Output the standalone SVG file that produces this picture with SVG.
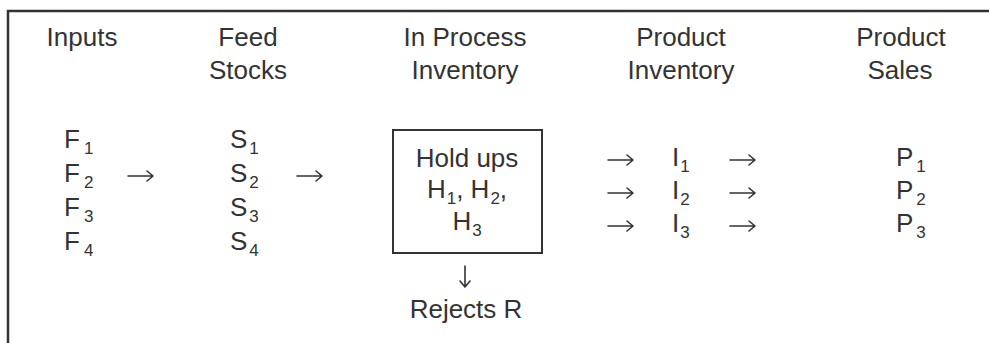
<svg xmlns="http://www.w3.org/2000/svg" width="989" height="343" viewBox="0 0 989 343">
<style>
text{font-family:"Liberation Sans",Arial,sans-serif;font-size:26px;fill:#333}
.c{text-anchor:middle}
.s{font-size:17px}
.frame{fill:none;stroke:#333;stroke-width:2.5}
.box{fill:none;stroke:#333;stroke-width:2}
.arr{fill:none;stroke:#333;stroke-width:1.6;stroke-linecap:round;stroke-linejoin:round}
</style>
<rect width="989" height="343" fill="#fff"/>
<path class="frame" d="M8,343 V11 H989"/>
<g id="headers">
<text class="c" x="82" y="46">Inputs</text>
<text class="c" x="248" y="46">Feed</text>
<text class="c" x="248" y="79">Stocks</text>
<text class="c" x="465" y="46">In Process</text>
<text class="c" x="465" y="79">Inventory</text>
<text class="c" x="681" y="46">Product</text>
<text class="c" x="681" y="79">Inventory</text>
<text class="c" x="901" y="46">Product</text>
<text class="c" x="900" y="79">Sales</text>
</g>
<g id="inputs">
<text x="64" y="148">F<tspan class="s" dx="4" dy="6">1</tspan></text>
<text x="64" y="182">F<tspan class="s" dx="4" dy="6">2</tspan></text>
<text x="64" y="216">F<tspan class="s" dx="4" dy="6">3</tspan></text>
<text x="64" y="250">F<tspan class="s" dx="4" dy="6">4</tspan></text>
</g>
<g id="feedstocks">
<text x="230" y="148">S<tspan class="s" dx="2" dy="6">1</tspan></text>
<text x="230" y="182">S<tspan class="s" dx="2" dy="6">2</tspan></text>
<text x="230" y="216">S<tspan class="s" dx="2" dy="6">3</tspan></text>
<text x="230" y="250">S<tspan class="s" dx="2" dy="6">4</tspan></text>
</g>
<g id="holdups">
<rect class="box" x="393" y="130" width="149" height="123"/>
<text class="c" x="467" y="167">Hold ups</text>
<text class="c" x="467" y="198">H<tspan class="s" dx="1" dy="6">1</tspan><tspan dy="-6">, H</tspan><tspan class="s" dx="1" dy="6">2</tspan><tspan dy="-6">,</tspan></text>
<text class="c" x="467" y="230">H<tspan class="s" dx="1" dy="6">3</tspan></text>
</g>
<g id="rejects">
<text class="c" x="466" y="318">Rejects R</text>
</g>
<g id="inventory">
<text x="672" y="166">I<tspan class="s" dx="1" dy="6">1</tspan></text>
<text x="672" y="199">I<tspan class="s" dx="1" dy="6">2</tspan></text>
<text x="672" y="232">I<tspan class="s" dx="1" dy="6">3</tspan></text>
</g>
<g id="sales">
<text x="896" y="166">P<tspan class="s" dx="3" dy="6">1</tspan></text>
<text x="896" y="199">P<tspan class="s" dx="3" dy="6">2</tspan></text>
<text x="896" y="232">P<tspan class="s" dx="3" dy="6">3</tspan></text>
</g>
<g id="connectors">
<path class="arr" d="M128,176 H153 M147,171 L153,176 L147,181"/>
<path class="arr" d="M297,176 H322 M316,171 L322,176 L316,181"/>
<path class="arr" d="M608,160 H633 M627,155 L633,160 L627,165"/>
<path class="arr" d="M608,193 H633 M627,188 L633,193 L627,198"/>
<path class="arr" d="M608,226 H633 M627,221 L633,226 L627,231"/>
<path class="arr" d="M730,160 H755 M749,155 L755,160 L749,165"/>
<path class="arr" d="M730,193 H755 M749,188 L755,193 L749,198"/>
<path class="arr" d="M730,226 H755 M749,221 L755,226 L749,231"/>
<path class="arr" d="M465,266 V287 M460,281 L465,287 L470,281"/>
</g>
</svg>
